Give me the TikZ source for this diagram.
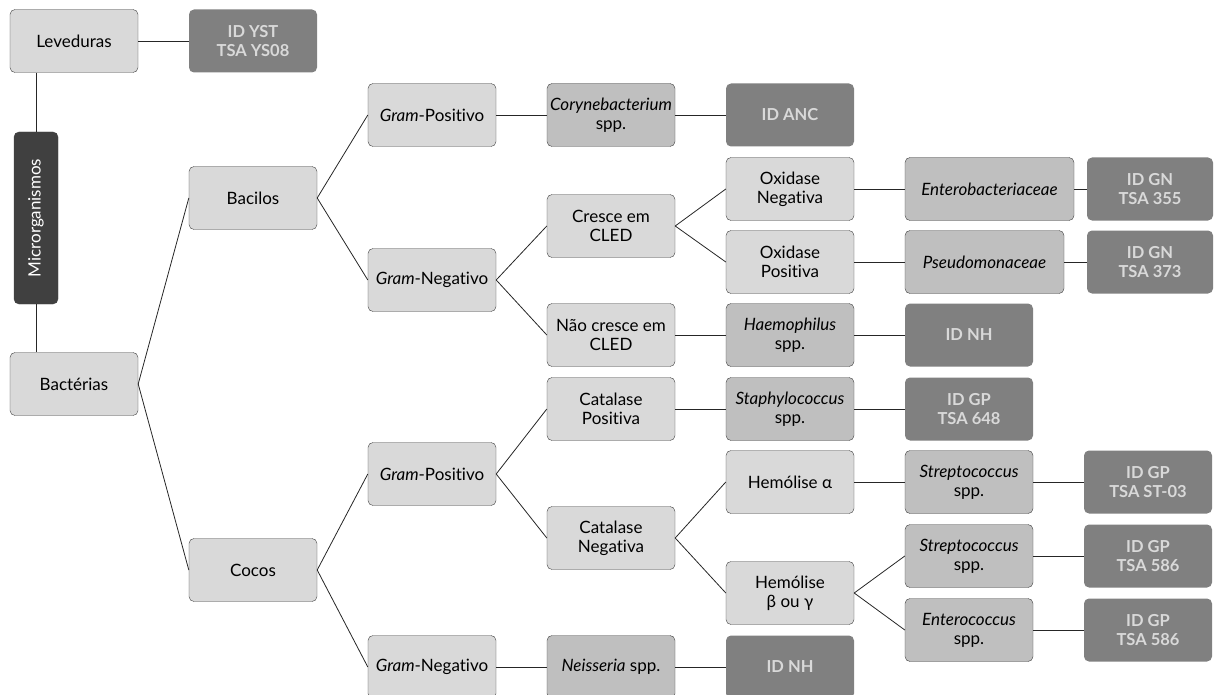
\documentclass[tikz,border=0pt]{standalone}
\usepackage{fontspec}
\setmainfont{Lato}[Ligatures=NoCommon]
\begin{document}
\begin{tikzpicture}[
    x=1pt,
    y=-1pt,
    font=\fontsize{17}{19}\selectfont,
    every node/.style={inner sep=1pt, align=center, rounded corners=5pt},
    lightbox/.style={draw=black!75, fill=black!15, minimum width=128pt, minimum height=63pt},
    midbox/.style={lightbox, fill=black!25},
    idbox/.style={fill=black!50, text=black!15, font=\fontsize{16.5}{19}\selectfont\bfseries, minimum width=128pt, minimum height=63pt},
    rootbox/.style={fill=black!75, draw=black!75, text=white, rotate=90, minimum width=172pt, minimum height=44pt},
    link/.style={draw=black!85, line width=0.8pt}
]
\useasboundingbox (0,0) rectangle (1214,695);

% left column
\node[lightbox] (lev) at (74,41) {Leveduras};
\node[idbox] (idyst) at (253,41) {ID YST\\TSA YS08};
\node[rootbox] (micro) at (36,218) {Microrganismos};
\node[lightbox] (bac) at (74,384) {Bactérias};

% bacilos
\node[lightbox] (bacilos) at (253,198) {Bacilos};
\node[lightbox] (gpbac) at (432,115) {\textit{Gram}-Positivo};
\node[midbox] (coryne) at (611,115) {\textit{Corynebacterium}\\spp.};
\node[idbox] (idanc) at (790,115) {ID ANC};
\node[lightbox] (gnbac) at (432,280) {\textit{Gram}-Negativo};
\node[lightbox] (cresce) at (611,226) {Cresce em\\CLED};
\node[lightbox] (oxneg) at (790,189) {Oxidase\\Negativa};
\node[midbox, minimum width=169pt] (entero) at (989.5,189) {\textit{Enterobacteriaceae}};
\node[idbox, minimum width=126pt] (idgnA) at (1150,189) {ID GN\\TSA 355};
\node[lightbox] (oxpos) at (790,262) {Oxidase\\Positiva};
\node[midbox, minimum width=159pt] (pseudo) at (984.5,262) {\textit{Pseudomonaceae}};
\node[idbox, minimum width=126pt] (idgnB) at (1150,262) {ID GN\\TSA 373};
\node[lightbox] (naocresce) at (611,335) {Não cresce em\\CLED};
\node[midbox] (haemo) at (790,335) {\textit{Haemophilus}\\spp.};
\node[idbox] (idnhA) at (969,335) {ID NH};

% cocos
\node[lightbox] (cocos) at (253,570) {Cocos};
\node[lightbox] (gpcoc) at (432,474) {\textit{Gram}-Positivo};
\node[lightbox] (catpos) at (611,409) {Catalase\\Positiva};
\node[midbox] (staph) at (790,409) {\textit{Staphylococcus}\\spp.};
\node[idbox] (idgpA) at (969,409) {ID GP\\TSA 648};
\node[lightbox] (catneg) at (611,538) {Catalase\\Negativa};
\node[lightbox] (hemalfa) at (790,482) {Hemólise α};
\node[midbox] (strepA) at (969,482) {\textit{Streptococcus}\\spp.};
\node[idbox] (idgpB) at (1148,482) {ID GP\\TSA ST-03};
\node[lightbox] (hembeta) at (790,593) {Hemólise\\β ou γ};
\node[midbox] (strepB) at (969,556) {\textit{Streptococcus}\\spp.};
\node[idbox] (idgpC) at (1148,556) {ID GP\\TSA 586};
\node[midbox] (enteroc) at (969,630) {\textit{Enterococcus}\\spp.};
\node[idbox] (idgpD) at (1148,630) {ID GP\\TSA 586};
\node[lightbox] (gncoc) at (432,667) {\textit{Gram}-Negativo};
\node[midbox] (neiss) at (611,667) {\textit{Neisseria} spp.};
\node[idbox] (idnhB) at (790,667) {ID NH};

% connectors
\draw[link] (lev.south -| micro.east) -- (micro.east);
\draw[link] (micro.west) -- (micro.west |- bac.north);
\draw[link] (lev.east) -- (idyst.west);
\foreach \a/\b in {bac/bacilos, bac/cocos,
    bacilos/gpbac, bacilos/gnbac, gpbac/coryne, coryne/idanc,
    gnbac/cresce, gnbac/naocresce, cresce/oxneg, cresce/oxpos,
    oxneg/entero, entero/idgnA, oxpos/pseudo, pseudo/idgnB,
    naocresce/haemo, haemo/idnhA,
    cocos/gpcoc, cocos/gncoc, gpcoc/catpos, gpcoc/catneg,
    catpos/staph, staph/idgpA, catneg/hemalfa, catneg/hembeta,
    hemalfa/strepA, strepA/idgpB, hembeta/strepB, hembeta/enteroc,
    strepB/idgpC, enteroc/idgpD, gncoc/neiss, neiss/idnhB} {
    \draw[link] (\a.east) -- (\b.west);
}
\end{tikzpicture}
\end{document}
